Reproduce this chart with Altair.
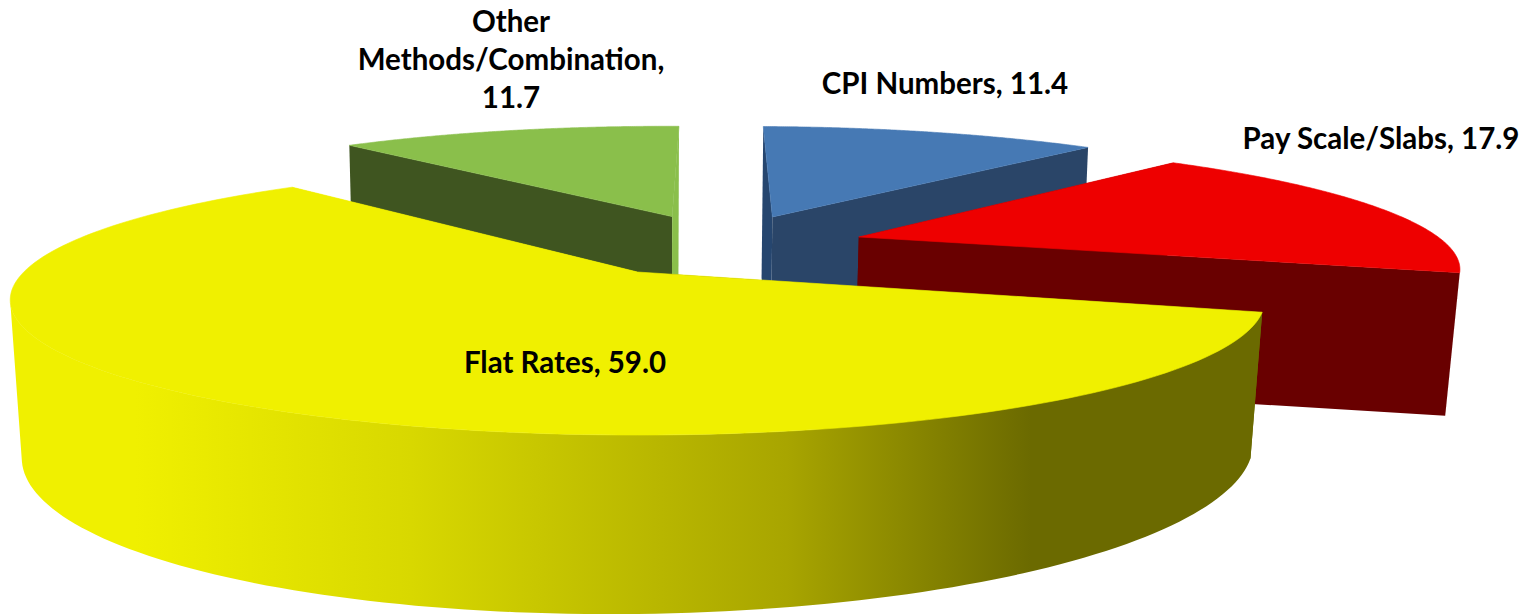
import math
import altair as alt

# ---- data
categories = ["CPI Numbers", "Pay Scale/Slabs", "Flat Rates", "Other Methods/Combination"]
values = [11.4, 17.9, 59.0, 11.7]
label_texts = ["CPI Numbers, 11.4", "Pay Scale/Slabs, 17.9", "Flat Rates, 59.0",
               "Other", "Methods/Combination,", "11.7"]

# ---- styling
top_colors = ["#4679b4", "#ee0000", "#f0f000", "#8abf4b"]
start_wall_colors = ["#26466f", "#690000", "#6b6a00", "#3f5520"]
end_wall_colors = ["#2a4568", "#690000", "#f0f000", "#8abf4b"]
arc_wall_colors = ["#2a4568", "#690000", None, "#3f5520"]

# ---- layout: a 3D pie seen through a simple perspective camera
OX, OY = 629.5, 264     # where the world origin lands in the plot area
F, G = 613.7, 129.3
wall_height = [200.0, 156.0, 148.0, 200.0]
KY, KZ = 0.207, 0.018
TILT = 0.05
ROTATION = math.radians(1.5)
explode = [(0.241, 0.467), (0.382, 0.287), (0.0, 0.0), (0.062, 0.47)]
label_xy = [(937, 77), (1373, 132), (557, 356), (503, 15), (503, 53), (503, 91)]
W, HT = 1516, 607


def project(x, y, z=0.0, h=0.0):
    d = 1 + KY * y + KZ * z
    return [OX + F * x / d, OY + (-G * y + h * z * (1 - TILT * x)) / d]


def sweep(a0, a1, n=90):
    return [a0 + (a1 - a0) * s / n for s in range(n + 1)]


def rim(i, angs, z=0.0):
    ex, ey = explode[i]
    return [project(ex + math.cos(a), ey + math.sin(a), z, wall_height[i]) for a in angs]


def faces_camera(i, a):
    ex, ey = explode[i]
    return -ex * math.cos(a) - (1 / KY + ey) * math.sin(a) - 1 > 0


def feature(points):
    ring = points + [points[0]]
    return {"type": "Feature", "properties": {}, "geometry": {"type": "Polygon", "coordinates": [ring]}}


def geo(points, **kw):
    kw.setdefault("strokeWidth", 0)
    return (
        alt.Chart(alt.InlineData(values={"type": "FeatureCollection", "features": [feature(points)]},
                                 format=alt.DataFormat(type="json", property="features")))
        .mark_geoshape(**kw)
        .project(type="identity", scale=1, translate=[0, 0])
    )


yellow_gradient = alt.Gradient(
    gradient="linear", x1=0, y1=0, x2=1, y2=0,
    stops=[
        alt.GradientStop(offset=0.0, color="#f0f000"),
        alt.GradientStop(offset=0.10, color="#f0f000"),
        alt.GradientStop(offset=0.32, color="#d8d800"),
        alt.GradientStop(offset=0.62, color="#a8a500"),
        alt.GradientStop(offset=0.815, color="#6b6a00"),
        alt.GradientStop(offset=1.0, color="#6b6a00"),
    ],
)

total = sum(values)
angles = []
run = 0.0
for v in values:
    a0 = math.pi / 2 - ROTATION - 2 * math.pi * run / total
    run += v
    a1 = math.pi / 2 - ROTATION - 2 * math.pi * run / total
    angles.append((a0, a1))

layers = []
# painter's order: far slices first, Flat Rates last
for i in [3, 0, 1, 2]:
    a0, a1 = angles[i]
    ex, ey = explode[i]
    angs = sweep(a0, a1, 160)
    top_arc = rim(i, angs)
    bot_arc = rim(i, angs, 1.0)
    apex_t = project(ex, ey)
    apex_b = project(ex, ey, 1.0, wall_height[i])
    layers.append(geo([apex_t, top_arc[0], bot_arc[0], apex_b], fill=start_wall_colors[i]))
    layers.append(geo([apex_t, top_arc[-1], bot_arc[-1], apex_b], fill=end_wall_colors[i]))
    front = [a for a in angs if faces_camera(i, a)]
    if len(front) > 1:
        arc_fill = arc_wall_colors[i] if arc_wall_colors[i] else yellow_gradient
        layers.append(geo(rim(i, front) + rim(i, front, 1.0)[::-1], fill=arc_fill))
    layers.append(geo([apex_t] + top_arc, fill=top_colors[i], stroke=top_colors[i], strokeWidth=0.6))

labels = alt.Chart(alt.Data(values=[
    {"t": t, "x": p[0], "y": p[1]} for t, p in zip(label_texts, label_xy)
])).mark_text(
    font="Lato", fontWeight="bold", fontSize=29.5, color="#000000",
    align="center", baseline="middle",
).encode(
    x=alt.X("x:Q", scale=None, axis=None),
    y=alt.Y("y:Q", scale=None, axis=None),
    text="t:N",
)

chart = (
    alt.layer(*layers, labels)
    .properties(width=W, height=HT, padding=0, autosize=alt.AutoSizeParams(type="none"), background="#ffffff")
    .configure_view(stroke=None)
)
chart.save("out.html", embed_options={"renderer": "svg", "actions": False})
